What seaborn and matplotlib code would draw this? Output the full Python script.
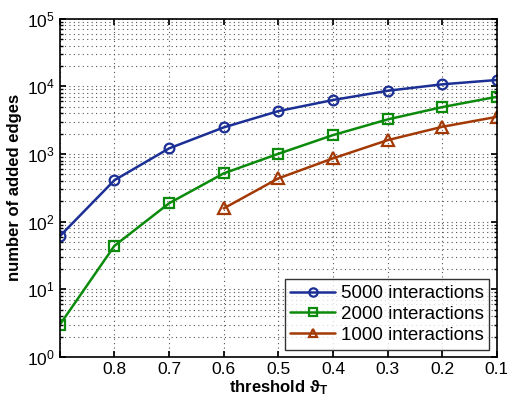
import numpy as np
import pandas as pd
import matplotlib
matplotlib.use('Agg')
import matplotlib.pyplot as plt
import seaborn as sns
from matplotlib.ticker import LogLocator, FixedLocator

sns.set_theme(style="ticks")
plt.rcParams['font.family'] = ['Liberation Sans', 'DejaVu Sans']
plt.rcParams['mathtext.fontset'] = 'custom'
plt.rcParams['mathtext.rm'] = 'Liberation Sans'
plt.rcParams['mathtext.bf'] = 'Liberation Sans:bold'
plt.rcParams['mathtext.it'] = 'Liberation Sans:italic'
plt.rcParams['text.color'] = 'black'
plt.rcParams['axes.labelcolor'] = 'black'

# --- data ---
thr_5000 = [0.9, 0.8, 0.7, 0.6, 0.5, 0.4, 0.3, 0.2, 0.1]
edges_5000 = [61, 410, 1210, 2470, 4300, 6270, 8590, 10700, 12400]

thr_2000 = [0.9, 0.8, 0.7, 0.6, 0.5, 0.4, 0.3, 0.2, 0.1]
edges_2000 = [3, 44, 187, 517, 1006, 1900, 3240, 4930, 7000]

thr_1000 = [0.6, 0.5, 0.4, 0.3, 0.2, 0.1]
edges_1000 = [157, 436, 861, 1600, 2520, 3540]

labels = ['5000 interactions', '2000 interactions', '1000 interactions']
colors = ['#1c2f95', '#0b8a0b', '#a33a06']
markers = ['o', 's', '^']

series = [(thr_5000, edges_5000), (thr_2000, edges_2000), (thr_1000, edges_1000)]

fig = plt.figure(figsize=(5.07, 4.05), dpi=100)
ax = fig.add_axes([0.118, 0.1185, 0.862, 0.8355])

for (x, y), lab, c, m in zip(series, labels, colors, markers):
    df = pd.DataFrame({'threshold': x, 'edges': y})
    sns.lineplot(data=df, x='threshold', y='edges', ax=ax, color=c, marker=m,
                 markersize=8 if m == '^' else 7, markerfacecolor='none',
                 markeredgecolor=c, markeredgewidth=1.6, linewidth=1.8,
                 label=lab, sort=False)

ax.set_yscale('log')
ax.set_ylim(1, 1e5)
ax.set_xlim(0.9, 0.1)
ax.xaxis.set_major_locator(FixedLocator([0.9, 0.8, 0.7, 0.6, 0.5, 0.4, 0.3, 0.2, 0.1]))
ax.set_xticklabels(['', '0.8', '0.7', '0.6', '0.5', '0.4', '0.3', '0.2', '0.1'])
ax.yaxis.set_major_locator(LogLocator(base=10, numticks=10))
ax.yaxis.set_minor_locator(LogLocator(base=10, subs=np.arange(2, 10), numticks=20))

dots = (0, (1, 3))
ax.grid(True, which='major', axis='both', linestyle=dots, color='#555555', linewidth=0.8)
ax.grid(True, which='minor', axis='y', linestyle=dots, color='#555555', linewidth=0.8)

ax.tick_params(axis='both', which='both', direction='in', top=True, right=True,
               labelsize=12.5, colors='black', labelcolor='black')
ax.tick_params(which='major', length=4)
ax.tick_params(which='minor', length=2)
for s in ax.spines.values():
    s.set_color('black')
    s.set_linewidth(1.2)

ax.set_xlabel(r'threshold $\mathbf{\vartheta_T}$', fontsize=12, fontweight='bold', labelpad=1)
ax.set_ylabel('number of added edges', fontsize=12, fontweight='bold', labelpad=4)

leg = ax.legend(loc='lower right', fontsize=13.5, frameon=True, fancybox=False,
                edgecolor='black', handlelength=2.4, handletextpad=0.3,
                labelspacing=0.2, borderpad=0.3, borderaxespad=0.4)
leg.get_frame().set_linewidth(1.0)
for t in leg.get_texts():
    t.set_color('black')
for h in leg.get_lines():
    h.set_markersize(6)

fig.savefig('out.png', dpi=100)
